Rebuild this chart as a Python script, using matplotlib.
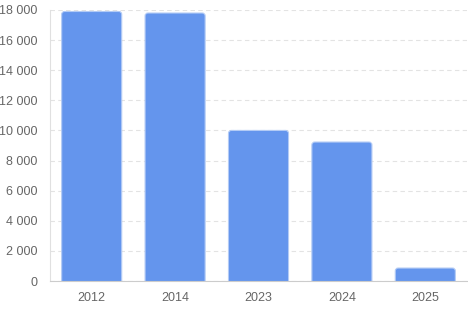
import matplotlib.pyplot as plt
from matplotlib.patches import FancyBboxPatch
from matplotlib.ticker import FuncFormatter

plt.rcParams['font.family'] = ['Liberation Sans', 'DejaVu Sans']

years = ['2012', '2014', '2023', '2024', '2025']
values = [17900, 17800, 10000, 9230, 860]

fig = plt.figure(figsize=(4.68, 3.10), dpi=100)
ax = fig.add_axes([50 / 468, 29 / 310, 417 / 468, 271 / 310])

bars = ax.bar(range(len(years)), values, width=0.72, color='#6495ed')

# swap plain rectangles for ones with rounded top corners
# (bottom corners pushed below the axis so they get clipped)
for b in bars:
    x, y, w, h = b.get_x(), b.get_y(), b.get_width(), b.get_height()
    b.set_visible(False)
    p = FancyBboxPatch((x, y - 400), w, h + 400, boxstyle='round,pad=0,rounding_size=0.035',
                       mutation_aspect=5500, facecolor='#6495ed',
                       edgecolor='#b3cbf5', linewidth=0.8, zorder=3)
    ax.add_patch(p)

ax.set_xlim(-0.5, len(years) - 0.5)
ax.set_ylim(0, 18000)
ax.set_yticks(range(0, 18001, 2000))
ax.yaxis.set_major_formatter(FuncFormatter(lambda v, _: f'{int(v):,}'.replace(',', ' ')))
ax.set_xticks(range(len(years)))
ax.set_xticklabels(years)

ax.grid(axis='y', color='#e3e3e3', linestyle=(0, (4, 3)), linewidth=0.8, zorder=0)
ax.set_axisbelow(True)
for s in ['top', 'right']:
    ax.spines[s].set_visible(False)
ax.spines['left'].set_color('#e0e0e0')
ax.spines['bottom'].set_color('#cccccc')
ax.spines['bottom'].set_zorder(4)
ax.tick_params(length=0, labelsize=9, colors='#666666')
ax.tick_params(axis='x', pad=8)
ax.tick_params(axis='y', pad=9)

fig.savefig('out.png', dpi=100)
